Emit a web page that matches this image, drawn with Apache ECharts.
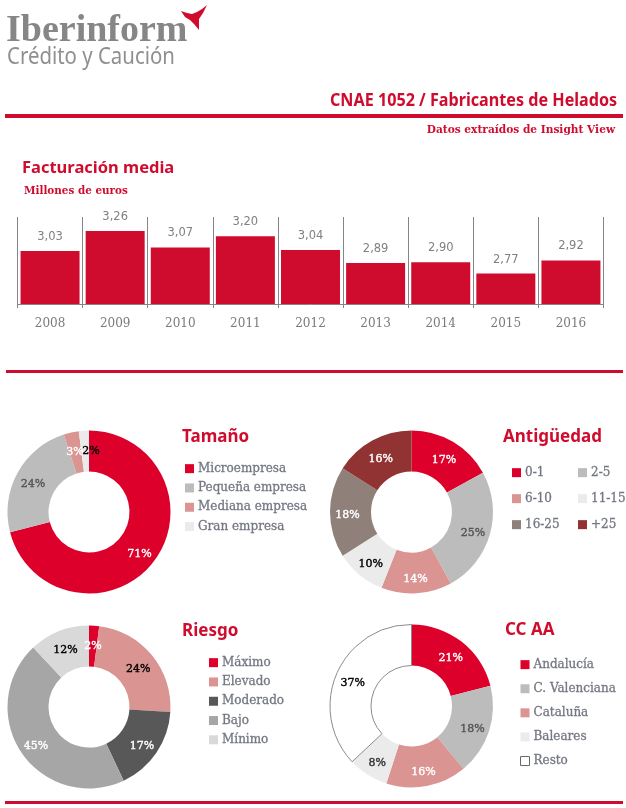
<!DOCTYPE html>
<html>
<head>
<meta charset="utf-8">
<style>
html, body { margin: 0; padding: 0; background: #fff; }
#chart { width: 626px; height: 808px; }
</style>
<script src="https://cdn.jsdelivr.net/npm/echarts@6/dist/echarts.min.js"></script>
</head>
<body>
<div id="chart"></div>
<script>
var years = ['2008', '2009', '2010', '2011', '2012', '2013', '2014', '2015', '2016'];
var turnover = [3.03, 3.26, 3.07, 3.20, 3.04, 2.89, 2.90, 2.77, 2.92];

var sizeNames = ['Microempresa', 'Pequeña empresa', 'Mediana empresa', 'Gran empresa'];
var sizeValues = [71, 24, 3, 2];
var ageNames = ['0-1', '2-5', '6-10', '11-15', '16-25', '+25'];
var ageValues = [17, 25, 14, 10, 18, 16];
var riskNames = ['Máximo', 'Elevado', 'Moderado', 'Bajo', 'Mínimo'];
var riskValues = [2, 24, 17, 45, 12];
var regionNames = ['Andalucía', 'C. Valenciana', 'Cataluña', 'Baleares', 'Resto'];
var regionValues = [21, 18, 16, 8, 37];

var RED = '#d00c2e';
var PIE_RED = '#dc002a';
var SERIF = '"DejaVu Serif"';
var SANS = '"Noto Sans"';

var dom = document.getElementById('chart');
var myChart = echarts.init(dom, null, { renderer: 'canvas' });

function pie(name, center, names, values, colors, labelColors, offsets) {
    return {
        type: 'pie',
        name: name,
        center: center,
        radius: [40.5, 81.5],
        startAngle: 90,
        clockwise: true,
        silent: true,
        avoidLabelOverlap: false,
        labelLayout: { hideOverlap: false },
        data: names.map(function (n, i) {
            var isResto = n === 'Resto';
            return {
                name: n,
                value: values[i],
                itemStyle: {
                    color: colors[i],
                    borderColor: isResto ? '#8c8c8c' : colors[i],
                    borderWidth: isResto ? 1 : 0
                },
                label: {
                    color: labelColors[i],
                    textBorderColor: labelColors[i],
                    textBorderWidth: 0.4,
                    offset: offsets && offsets[i] ? offsets[i] : [0, 3]
                }
            };
        }),
        label: {
            show: true,
            position: 'inside',
            formatter: function (p) { return p.value + '%'; },
            fontFamily: SERIF,
            fontSize: 11
        },
        labelLine: { show: false }
    };
}

function legend(names, left, top, gap) {
    return {
        data: names.map(function (n) {
            // the white slice gets a thin outlined key
            return n === 'Resto'
                ? { name: n, itemStyle: { borderWidth: 1, borderColor: '#666' } }
                : { name: n };
        }),
        orient: 'vertical',
        left: left,
        top: top,
        padding: 0,
        itemWidth: 9,
        itemHeight: 9,
        itemGap: gap,
        icon: 'rect',
        selectedMode: false,
        textStyle: {
            fontFamily: SERIF,
            fontSize: 12,
            color: '#737782',
            textBorderColor: '#737782',
            textBorderWidth: 0.3,
            padding: [0, 0, 0, -1],
            lineHeight: 12,
            height: 12
        }
    };
}

function heading(text, x, y, size) {
    return {
        type: 'text',
        left: x,
        top: y,
        style: {
            text: text,
            fill: RED,
            font: 'bold ' + size + 'px ' + SANS
        }
    };
}

function rule(x, y, w, h) {
    return { type: 'rect', shape: { x: x, y: y, width: w, height: h }, style: { fill: RED } };
}

var option = {
    animation: false,
    backgroundColor: '#fff',
    grid: { left: 17.5, top: 217, width: 586, height: 87 },
    xAxis: {
        type: 'category',
        data: years,
        axisLine: { lineStyle: { color: '#858585', width: 1 } },
        axisTick: { show: true, length: 4, lineStyle: { color: '#858585' } },
        splitLine: { show: true, lineStyle: { color: '#858585', width: 1 } },
        axisLabel: {
            margin: 14,
            fontFamily: SERIF,
            fontSize: 12,
            color: '#7a7a7a'
        }
    },
    yAxis: { type: 'value', min: 2.42, max: 3.42, show: false, splitLine: { show: false } },
    legend: [
        legend(sizeNames, 185, 462.5, 7),
        legend(['0-1', '6-10', '16-25'], 512, 466.5, 13.7),
        legend(['2-5', '11-15', '+25'], 578, 466.5, 13.7),
        legend(riskNames, 209, 656.5, 7),
        legend(regionNames, 520, 658.5, 11.8)
    ],
    series: [
        {
            type: 'bar',
            data: turnover,
            barWidth: 59,
            silent: true,
            itemStyle: { color: RED },
            label: {
                show: true,
                position: 'top',
                distance: 8,
                formatter: function (p) { return p.value.toFixed(2).replace('.', ','); },
                fontFamily: '"DejaVu Sans"',
                fontSize: 11.5,
                color: '#808080'
            }
        },
        pie('Tamaño', [89, 512], sizeNames, sizeValues,
            [PIE_RED, '#bcbcbc', '#da9593', '#ebebeb'],
            ['#ffffff', '#555555', '#ffffff', '#000000'],
            [null, null, null, [6, 3]]),
        pie('Antigüedad', [411.5, 512], ageNames, ageValues,
            [PIE_RED, '#bcbcbc', '#da9593', '#ebebeb', '#8f807a', '#913233'],
            ['#ffffff', '#555555', '#ffffff', '#000000', '#ffffff', '#ffffff']),
        pie('Riesgo', [89, 707], riskNames, riskValues,
            [PIE_RED, '#da9593', '#585858', '#a6a6a6', '#d9d9d9'],
            ['#ffffff', '#000000', '#ffffff', '#ffffff', '#000000']),
        pie('CCAA', [411.5, 706], regionNames, regionValues,
            [PIE_RED, '#bcbcbc', '#da9593', '#ebebeb', '#ffffff'],
            ['#ffffff', '#555555', '#ffffff', '#333333', '#000000'])
    ],
    graphic: [
        // logo
        {
            type: 'text', left: 6, top: 12,
            style: { text: 'Iberinform', fill: '#868686', font: 'bold 38px "Liberation Serif"' }
        },
        {
            type: 'text', x: 7, y: 45, scaleX: 0.85,
            style: { text: 'Crédito y Caución', fill: '#8f8f8f', font: '24px ' + SANS }
        },
        {
            type: 'polygon',
            shape: {
                points: [[207, 5], [203, 13], [199, 19], [199, 24], [199, 30], [194, 24], [190, 20], [185, 17], [181, 11], [187, 13], [192, 14], [197, 12], [202, 9]]
            },
            style: { fill: RED }
        },
        {
            type: 'text', x: 330, y: 93, scaleX: 0.95,
            style: { text: 'CNAE 1052 / Fabricantes de Helados', fill: RED, font: 'bold 17px ' + SANS }
        },
        rule(5, 114, 618, 4),
        {
            type: 'text', right: 11, top: 125,
            style: { text: 'Datos extraídos de Insight View', fill: RED, font: 'bold 10.6px ' + SERIF }
        },
        heading('Facturación media', 22, 160, 16.5),
        {
            type: 'text', left: 24, top: 186,
            style: { text: 'Millones de euros', fill: RED, font: 'bold 10.4px ' + SERIF }
        },
        rule(6, 370, 617, 3),
        heading('Tamaño', 182, 429, 17),
        heading('Antigüedad', 503, 429, 17),
        heading('Riesgo', 182, 623, 17),
        heading('CC AA', 505, 622, 17),
        rule(5, 801, 618, 3)
    ]
};

myChart.setOption(option);
window.addEventListener('resize', myChart.resize);
</script>
</body>
</html>
